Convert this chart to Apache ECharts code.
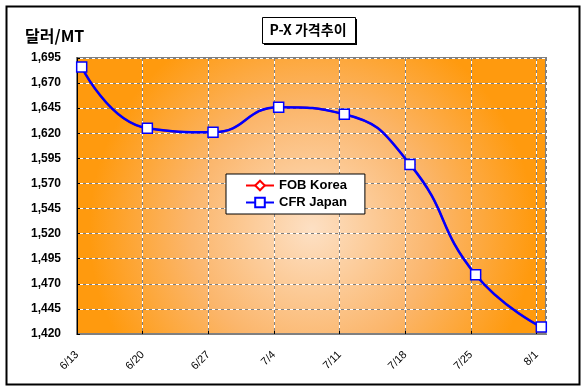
<!DOCTYPE html>
<html>
<head>
<meta charset="utf-8">
<script src="https://cdn.jsdelivr.net/npm/echarts@6/dist/echarts.min.js"></script>
<style>
html,body{margin:0;padding:0;background:#fff;}
#c{width:584px;height:392px;}
</style>
</head>
<body>
<div id="c"></div>
<script>
// ---- data ----
const categories = ['6/13', '6/20', '6/27', '7/4', '7/11', '7/18', '7/25', '8/1'];
const fobKorea   = [1686, 1625, 1621, 1646, 1639, 1589, 1479, 1427];
const cfrJapan   = [1686, 1625, 1621, 1646, 1639, 1589, 1479, 1427];
const yTicks     = { min: 1420, max: 1695, step: 25 };
const titleText  = 'P-X 가격추이';
const unitText   = '달러/MT';
const seriesNames = ['FOB Korea', 'CFR Japan'];
const daysPerCat = 7;

const FONT = '"Liberation Sans", Arial, "Noto Sans CJK KR", sans-serif';
const KFONT = '"Noto Sans CJK KR", "Liberation Sans", sans-serif';

const toPts = vals => vals.map((v, i) => [i * daysPerCat + 0.5, v]);
const xMax = (categories.length - 1) * daysPerCat + 1;

const chart = echarts.init(document.getElementById('c'), null, { renderer: 'canvas' });

const xLabelFmt = v => {
  if (v % daysPerCat !== 0) return '';
  const i = v / daysPerCat;
  return categories[i] || '';
};

const yFmt = v => v.toLocaleString('en-US');

chart.setOption({
  animation: false,
  backgroundColor: '#ffffff',
  grid: {
    left: 77, top: 58, right: 38, bottom: 58,
    show: true,
    borderColor: '#808080',
    borderWidth: 2,
    backgroundColor: {
      type: 'radial', x: 0.5, y: 0.62, r: 0.8,
      colorStops: [
        { offset: 0, color: '#FDE0C4' },
        { offset: 0.55, color: '#FBB66C' },
        { offset: 1, color: '#FF9A0E' }
      ]
    }
  },
  xAxis: [
    {
      type: 'value', min: 0, max: xMax, interval: daysPerCat,
      axisLine: { show: true, lineStyle: { color: '#808080', width: 2 } },
      axisTick: { show: true, inside: true, length: 3, lineStyle: { color: '#000' } },
      axisLabel: {
        formatter: xLabelFmt, rotate: 45, showMaxLabel: false,
        color: '#000', fontSize: 11, fontFamily: FONT, margin: 19
      },
      splitLine: { show: true, lineStyle: { color: '#808080', type: [3, 3], width: 1 } }
    },
    {
      type: 'value', min: 0, max: xMax, interval: daysPerCat, position: 'top',
      axisLine: { show: false }, axisTick: { show: false }, axisLabel: { show: false },
      splitLine: { show: true, lineStyle: { color: '#ffffff', type: [3, 3], dashOffset: 3, width: 1 } }
    }
  ],
  yAxis: [
    {
      type: 'value', min: yTicks.min, max: yTicks.max, interval: yTicks.step,
      axisLine: { show: true, lineStyle: { color: '#000', width: 1 } },
      axisTick: { show: true, inside: true, length: 3, lineStyle: { color: '#000' } },
      axisLabel: {
        formatter: yFmt, color: '#000', fontSize: 12, fontWeight: 'bold',
        fontFamily: FONT, margin: 16
      },
      splitLine: { show: true, lineStyle: { color: '#808080', type: [3, 3], width: 1 } }
    },
    {
      type: 'value', min: yTicks.min, max: yTicks.max, interval: yTicks.step, position: 'right',
      axisLine: { show: false }, axisTick: { show: false }, axisLabel: { show: false },
      splitLine: { show: true, lineStyle: { color: '#ffffff', type: [3, 3], dashOffset: 3, width: 1 } }
    }
  ],
  legend: {
    orient: 'vertical',
    left: 226, top: 174,
    padding: [5, 18, 5, 19],
    itemGap: 4,
    itemWidth: 28, itemHeight: 12,
    backgroundColor: '#ffffff',
    borderColor: '#000', borderWidth: 1,
    textStyle: { color: '#000', fontSize: 13, fontWeight: 'bold', fontFamily: FONT },
    data: seriesNames
  },
  series: [
    {
      name: seriesNames[0], type: 'line', smooth: 0.5,
      data: toPts(fobKorea),
      symbol: 'diamond', symbolSize: 10,
      lineStyle: { color: '#FF0000', width: 2 },
      itemStyle: { color: '#ffffff', borderColor: '#FF0000', borderWidth: 1 },
      z: 2
    },
    {
      name: seriesNames[1], type: 'line', smooth: 0.5,
      data: toPts(cfrJapan),
      symbol: 'rect', symbolSize: 10,
      lineStyle: { color: '#0000FF', width: 2.5 },
      itemStyle: { color: '#ffffff', borderColor: '#0000FF', borderWidth: 1.5 },
      z: 3
    }
  ],
  graphic: [
    {
      type: 'rect', left: 4, top: 4, silent: true,
      shape: { width: 573, height: 378 },
      style: { fill: 'none', stroke: '#000', lineWidth: 2 }
    },
    {
      type: 'rect', left: 264, top: 19, silent: true,
      shape: { width: 93, height: 26 },
      style: { fill: '#000' }
    },
    {
      type: 'rect', left: 262, top: 17, silent: true,
      shape: { width: 93, height: 26 },
      style: { fill: '#fff', stroke: '#000', lineWidth: 1 }
    },
    {
      type: 'text', x: 308, y: 30, silent: true,
      style: {
        text: titleText, fill: '#000', font: 'bold 14px ' + KFONT,
        align: 'center', verticalAlign: 'middle'
      }
    },
    {
      type: 'text', x: 25, y: 36, silent: true,
      style: {
        text: unitText, fill: '#000', font: 'bold 16px ' + KFONT,
        align: 'left', verticalAlign: 'middle'
      }
    }
  ]
});
</script>
</body>
</html>
